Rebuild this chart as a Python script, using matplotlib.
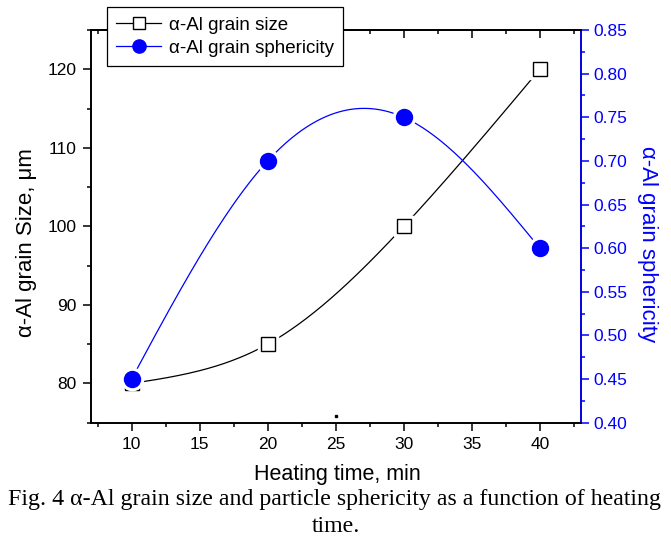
import numpy as np
import matplotlib
matplotlib.use("Agg")
import matplotlib.pyplot as plt
from matplotlib.lines import Line2D
from matplotlib.ticker import MultipleLocator, FormatStrFormatter

plt.rcParams['font.family'] = ['Liberation Sans', 'DejaVu Sans']

# data
heating_time = [10, 20, 30, 40]
grain_size = [80, 85, 100, 120]
sphericity = [0.45, 0.70, 0.75, 0.60]
stray_dot = (25, 75.9)  # small dot near x axis in the original

BLUE = '#0000ff'


def natural_spline(x, y, n=200):
    """smooth connecting line through the points (Origin 'spline' connect)"""
    x = np.asarray(x, float)
    y = np.asarray(y, float)
    h = np.diff(x)
    k = len(x)
    A = np.zeros((k, k))
    b = np.zeros(k)
    A[0, 0] = A[-1, -1] = 1
    for i in range(1, k - 1):
        A[i, i - 1] = h[i - 1]
        A[i, i] = 2 * (h[i - 1] + h[i])
        A[i, i + 1] = h[i]
        b[i] = 6 * ((y[i + 1] - y[i]) / h[i] - (y[i] - y[i - 1]) / h[i - 1])
    M = np.linalg.solve(A, b)
    xs = np.linspace(x[0], x[-1], n)
    j = np.clip(np.searchsorted(x, xs) - 1, 0, k - 2)
    hj = h[j]
    a = x[j + 1] - xs
    c = xs - x[j]
    ys = (M[j] * a ** 3 + M[j + 1] * c ** 3) / (6 * hj) \
        + (y[j] / hj - M[j] * hj / 6) * a + (y[j + 1] / hj - M[j + 1] * hj / 6) * c
    return xs, ys


fig = plt.figure(figsize=(6.71, 5.40), dpi=100)
ax = fig.add_axes([0.1352, 0.2172, 0.7302, 0.7272])
ax2 = ax.twinx()

# grain size (left axis)
xs, ys = natural_spline(heating_time, grain_size)
ax.plot(xs, ys, color='black', lw=0.9, zorder=2)
ax.plot(heating_time, grain_size, ls='none', marker='s', ms=14, mfc='white', mec='white', zorder=3)
ax.plot(heating_time, grain_size, ls='none', marker='s', ms=9.5, mfc='white', mec='black', mew=1.0, zorder=4)

# sphericity (right axis)
xs2, ys2 = natural_spline(heating_time, sphericity)
ax2.plot(xs2, ys2, color=BLUE, lw=0.9, zorder=2)
ax2.plot(heating_time, sphericity, ls='none', marker='o', ms=16, mfc='white', mec='white', zorder=3)
ax2.plot(heating_time, sphericity, ls='none', marker='o', ms=11.5, mfc=BLUE, mec=BLUE, zorder=4)

ax.plot([stray_dot[0]], [stray_dot[1]], ls='none', marker='s', ms=1.5, color='black')

ax.set_xlim(7, 43)
ax.set_ylim(75, 125)
ax2.set_ylim(0.40, 0.85)

ax.xaxis.set_major_locator(MultipleLocator(5))
ax.xaxis.set_minor_locator(MultipleLocator(2.5))
ax.yaxis.set_major_locator(MultipleLocator(10))
ax.yaxis.set_minor_locator(MultipleLocator(5))
ax2.yaxis.set_major_locator(MultipleLocator(0.05))
ax2.yaxis.set_minor_locator(MultipleLocator(0.025))
ax2.yaxis.set_major_formatter(FormatStrFormatter('%.2f'))

for a in (ax, ax2):
    for s in a.spines.values():
        s.set_linewidth(1.2)
ax2.spines['right'].set_color(BLUE)

ax.tick_params(axis='both', which='major', direction='out', length=6, width=1.1, labelsize=12.5, pad=4)
ax.tick_params(axis='both', which='minor', direction='out', length=3, width=1.1)
ax2.tick_params(axis='y', which='major', direction='out', length=6, width=1.1, labelsize=12.5,
                colors=BLUE, pad=3)
ax2.tick_params(axis='y', which='minor', direction='out', length=3, width=1.1, colors=BLUE)

# inward ticks on the top spine
top = ax.secondary_xaxis('top')
top.xaxis.set_major_locator(MultipleLocator(5))
top.xaxis.set_minor_locator(MultipleLocator(2.5))
top.tick_params(which='major', direction='in', length=6, width=1.1, labeltop=False)
top.tick_params(which='minor', direction='in', length=3, width=1.1)
top.spines['top'].set_linewidth(1.2)

ax.set_ylabel('α-Al grain Size, μm', fontsize=16)
ax.yaxis.set_label_coords(-0.110, 0.46)
ax2.set_ylabel('α-Al grain sphericity', fontsize=16, color=BLUE, rotation=270, va='center')
ax2.yaxis.set_label_coords(1.137, 0.455)
ax.set_xlabel('Heating time, min', fontsize=15.5)
ax.xaxis.set_label_coords(0.503, -0.106)

handles = [
    Line2D([], [], color='black', lw=0.9, marker='s', ms=8, mfc='white', mec='black'),
    Line2D([], [], color=BLUE, lw=0.9, marker='o', ms=9.5, mfc=BLUE, mec=BLUE),
]
labels = ['α-Al grain size', 'α-Al grain sphericity']
leg = fig.legend(handles, labels, loc='upper left', bbox_to_anchor=(107 / 671, 1 - 7 / 540),
                 fontsize=13.5, frameon=True, fancybox=False, framealpha=1, edgecolor='black',
                 handlelength=2.4, handletextpad=0.4, borderpad=0.5, labelspacing=0.32,
                 borderaxespad=0)
leg.get_frame().set_linewidth(0.9)
leg.set_zorder(10)

serif = ['Liberation Serif', 'DejaVu Serif']
fig.text(335 / 671, 1 - 505 / 540,
         'Fig. 4 α-Al grain size and particle sphericity as a function of heating',
         ha='center', va='baseline', fontsize=17.2, family=serif)
fig.text(336 / 671, 1 - 532 / 540, 'time.', ha='center', va='baseline', fontsize=17.2,
         family=serif)

fig.savefig('out.png', dpi=100)
